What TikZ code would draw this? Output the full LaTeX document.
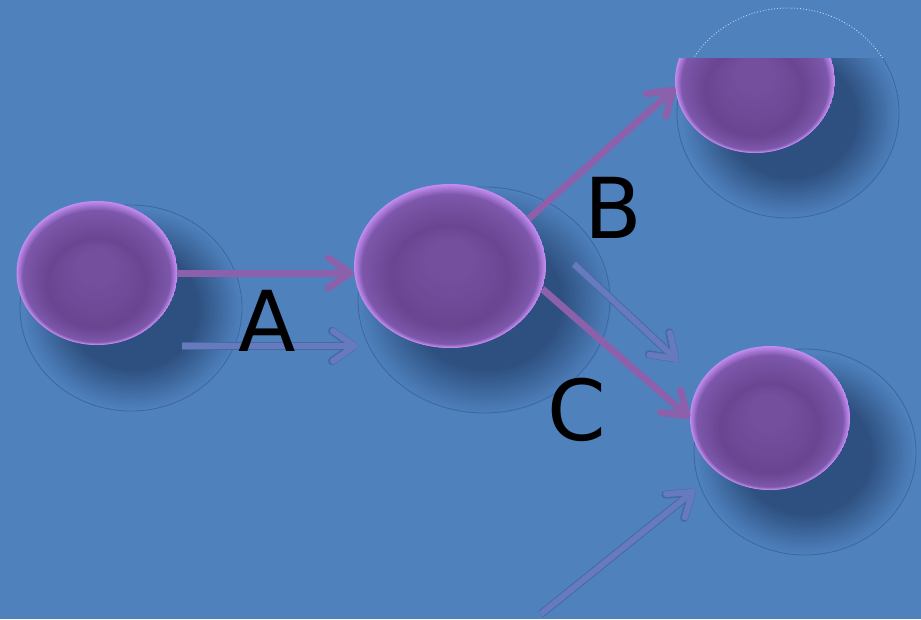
\documentclass[tikz,border=0pt]{standalone}
\usepackage{fontspec}
\newfontfamily\labfont{DejaVu Sans}
\usetikzlibrary{arrows.meta,shapes.geometric,calc}

\definecolor{bg}{RGB}{79,129,189}
\definecolor{shadowdark}{RGB}{46,80,128}
\definecolor{rimline}{RGB}{60,102,158}
\definecolor{rimlight}{RGB}{200,215,240}
\definecolor{arrowpurple}{RGB}{140,96,170}
\definecolor{ghostfill}{RGB}{104,122,190}
\definecolor{ghostline}{RGB}{68,106,164}
\definecolor{orbA}{RGB}{120,82,162}
\definecolor{orbC}{RGB}{106,70,146}
\definecolor{orbD}{RGB}{124,86,169}
\definecolor{orbF}{RGB}{196,140,242}

% soft cast shadow built from nested ellipses: centre, x radius, y radius
\newcommand\castshadow[3]{%
  \foreach \i [evaluate=\i as \p using int(5*\i),
               evaluate=\i as \f using 1-0.02*\i] in {0,...,20}
    \fill[shadowdark!\p!bg] (#1) ellipse [x radius={#2*\f*1pt}, y radius={#3*\f*1pt}];}

\begin{document}
\begin{tikzpicture}[x=1pt,y=-1pt,
  orb/.style 2 args={ellipse, inner sep=0pt, minimum width=#1, minimum height=#2,
    path picture={
      % light rim, wider at the top
      \foreach \i [evaluate=\i as \p using int(100-12*\i),
                   evaluate=\i as \f using 1-0.01*\i,
                   evaluate=\i as \s using 0.4*\i] in {0,...,8}
        \fill[orbF!\p!orbD] ($(path picture bounding box.center)+(0,\s)$)
          ellipse [x radius={0.5*#1*\f}, y radius={0.5*#2*\f}];
      % darker band in the lower half
      \foreach \i [evaluate=\i as \p using int(100-8*\i),
                   evaluate=\i as \f using 0.91-0.022*\i,
                   evaluate=\i as \s using 3.2+0.6*\i] in {0,...,12}
        \fill[orbD!\p!orbC] ($(path picture bounding box.center)+(0,\s)$)
          ellipse [x radius={0.5*#1*\f}, y radius={0.5*#2*\f}];
      % lighter core
      \foreach \i [evaluate=\i as \p using int(100-6*\i),
                   evaluate=\i as \f using 0.62-0.03*\i,
                   evaluate=\i as \s using 10-1.3*\i] in {0,...,12}
        \fill[orbC!\p!orbA] ($(path picture bounding box.center)+(0,\s)$)
          ellipse [x radius={0.5*#1*\f}, y radius={0.5*#2*\f}];
    }},
  castline/.style={draw=rimline, line width=0.8pt},
  link/.style={draw=arrowpurple, line width=7pt,
    -{Straight Barb[length=22pt, width=30pt, round]}},
  ghost/.style={draw=ghostfill, line width=6pt,
    -{Straight Barb[length=22pt, width=30pt, round]},
    preaction={draw=ghostline, line width=8pt}},
  lbl/.style={inner sep=0pt, font=\labfont\fontsize{84}{84}\selectfont}]

\useasboundingbox[fill=bg] (0,0) rectangle (921,619);

% ball centres
\coordinate (p1) at (97,273);
\coordinate (p2) at (450,266);
\coordinate (p3) at (755,81);
\coordinate (p4) at (770,418);

% cast shadows
\castshadow{$(p1)+(36,36)$}{110}{102}
\draw[castline] ($(p1)+(34,35)$) ellipse [x radius=111pt, y radius=103pt];
\castshadow{$(p2)+(36,36)$}{128}{114}
\draw[castline] ($(p2)+(34,34)$) ellipse [x radius=126pt, y radius=113pt];
\castshadow{$(p4)+(36,36)$}{110}{102}
\draw[castline] ($(p4)+(35,34)$) ellipse [x radius=111pt, y radius=103pt];

% ghost arrows lying in the shadow layer
\coordinate (g1s) at (182,346); \coordinate (g1e) at (358,346);
\coordinate (g2s) at (574,264); \coordinate (g2e) at (678,361);
\coordinate (g3s) at (541,614); \coordinate (g3e) at (695,490);
\draw[ghost] (g1s) -- (g1e);
\draw[ghost] (g2s) -- (g2e);
\draw[ghost] (g3s) -- (g3e);

% top-right ball, cut off by a flat top edge
\begin{scope}
  \clip (0,0) rectangle (921,58);
  \draw[rimlight, line width=0.9pt, dotted]
    ($(p3)+(33,32)$) ellipse [x radius=111pt, y radius=105pt];
\end{scope}
\begin{scope}
  \clip (0,58) rectangle (921,619);
  \castshadow{$(p3)+(36,36)$}{110}{102}
  \draw[castline] ($(p3)+(33,32)$) ellipse [x radius=111pt, y radius=105pt];
  \node[orb={160pt}{144pt}] (n3) at (p3) {};
\end{scope}

% balls
\node[orb={161pt}{144pt}] (n1) at (p1) {};
\node[orb={192pt}{164pt}] (n2) at (p2) {};
\node[orb={160pt}{144pt}] (n4) at (p4) {};

% connectors
\draw[link] (n1.east) -- (n1.east -| n2.west);
\draw[link] (n2.31) -- (n3.185);
\draw[link] (n2.-14) -- (n4.west);

% labels
\node[lbl] (la) at (267,321) {A};
\node[lbl] (lb) at (613,208) {B};
\node[lbl] (lc) at (577,410) {C};
\end{tikzpicture}
\end{document}
